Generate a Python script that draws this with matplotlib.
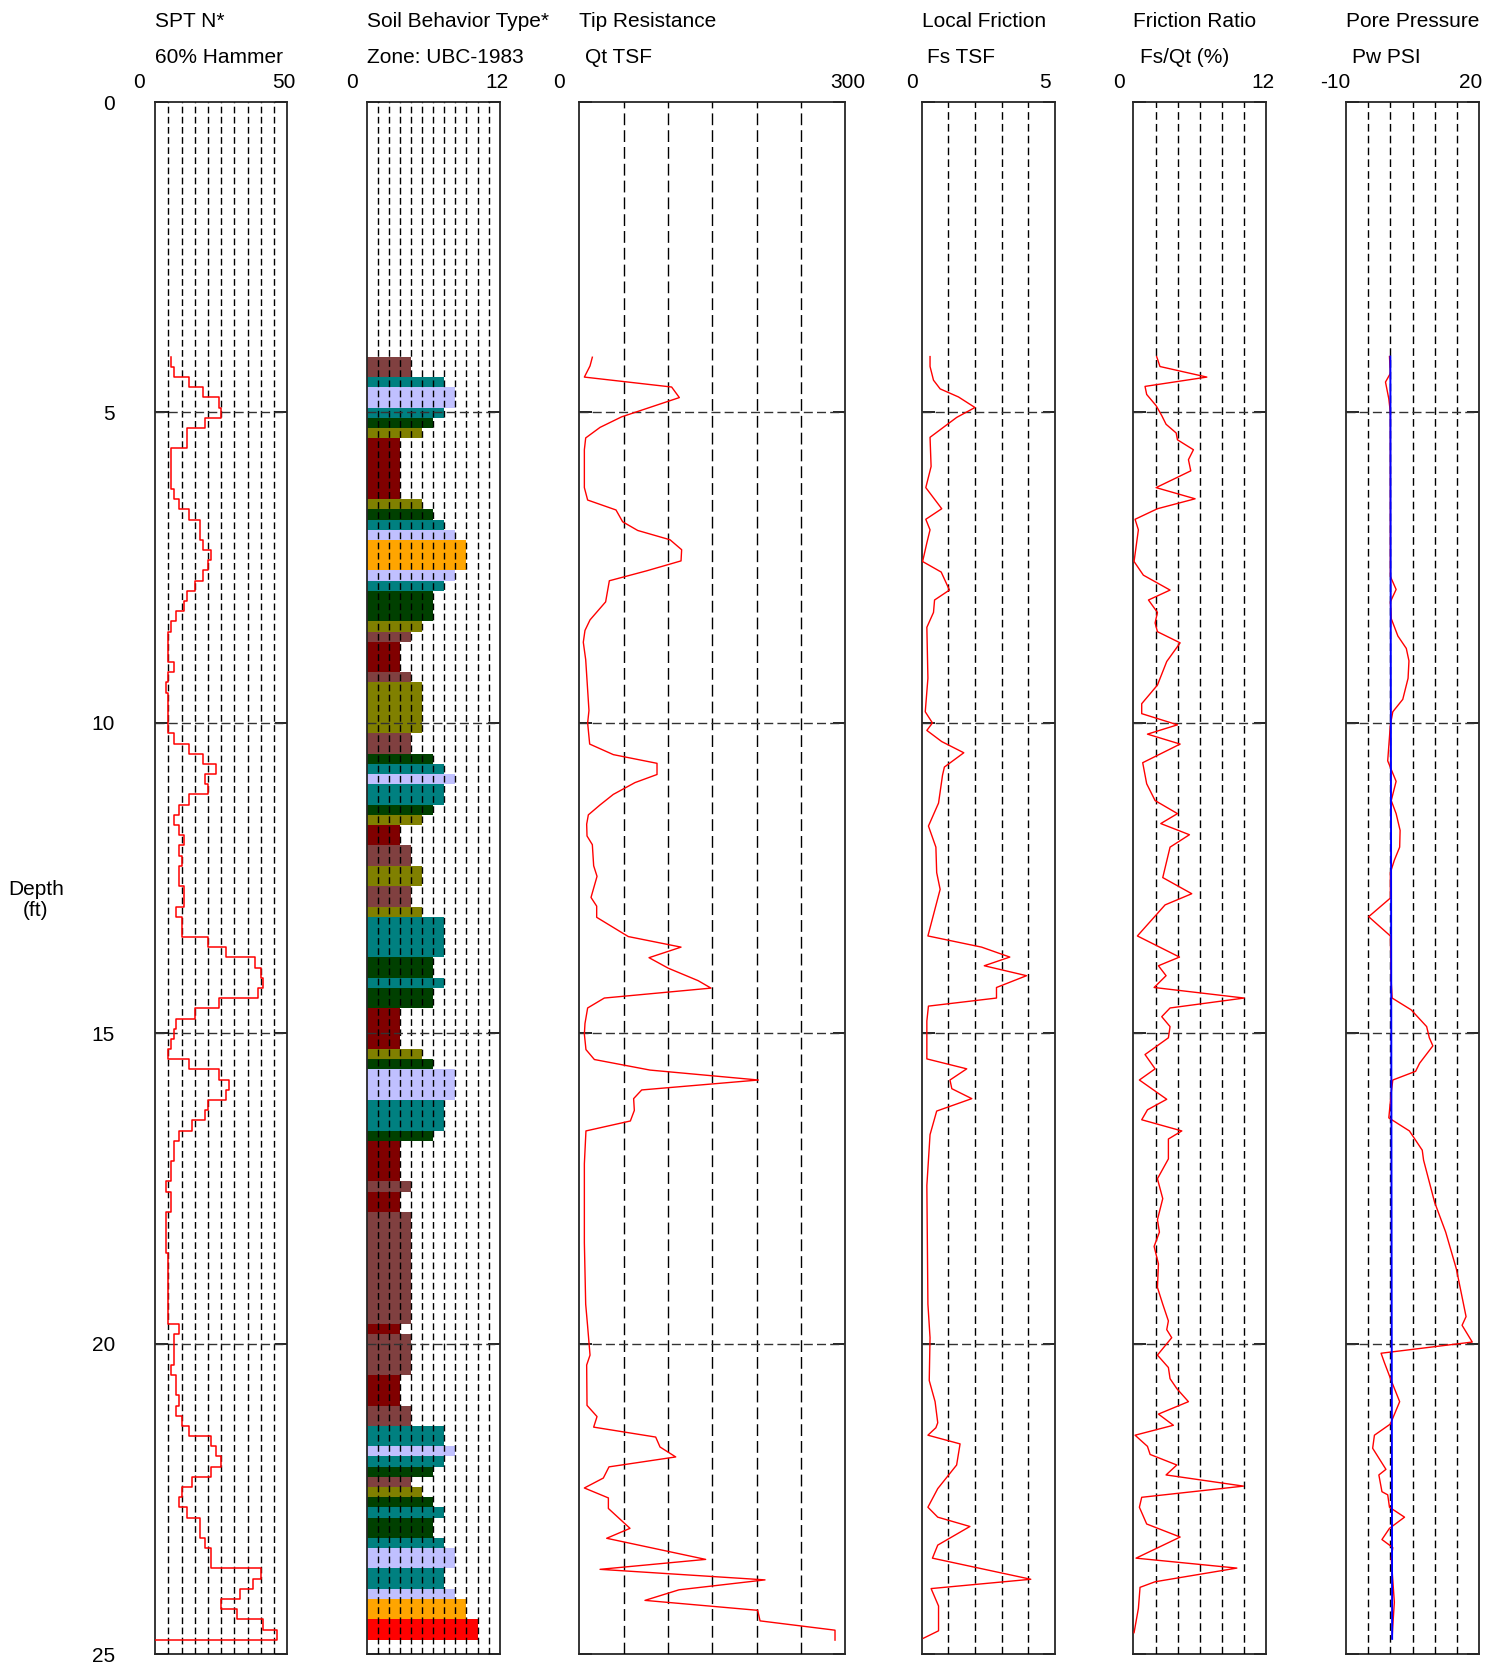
import matplotlib
matplotlib.use('Agg')
import matplotlib.pyplot as plt
import numpy as np

plt.rcParams['font.family'] = ['Liberation Sans', 'DejaVu Sans']
FS = 15

# CPT sounding sampled every 5 cm (0.164 ft), starting at 4.10 ft
top_depth = 4.10
step = 0.164

sbt_zone = [4, 4, 7, 8, 8, 7, 6, 5, 3, 3, 3, 3, 3, 3, 5, 6, 7, 8, 9, 9,
            9, 8, 7, 6, 6, 6, 5, 4, 3, 3, 3, 4, 5, 5, 5, 5, 5, 4, 4, 6,
            7, 8, 7, 7, 6, 5, 3, 3, 4, 4, 5, 5, 4, 4, 5, 7, 7, 7, 7, 6,
            6, 7, 6, 6, 3, 3, 3, 3, 5, 6, 8, 8, 8, 7, 7, 7, 6, 3, 3, 3,
            3, 4, 3, 3, 4, 4, 4, 4, 4, 4, 4, 4, 4, 4, 4, 3, 4, 4, 4, 4,
            3, 3, 3, 4, 4, 7, 7, 8, 7, 6, 4, 5, 6, 7, 6, 6, 7, 8, 8, 7,
            7, 8, 9, 9, 10, 10]

spt_n = [6, 7, 13, 18, 24, 25, 19, 12, 12, 6, 6, 6, 6, 7, 9, 13, 17, 17, 18, 21,
         20, 18, 15, 12, 11, 8, 6, 5, 5, 5, 7, 5, 4, 5, 5, 5, 5, 7, 13, 18,
         23, 19, 20, 13, 9, 7, 9, 11, 9, 10, 9, 9, 11, 11, 8, 10, 10, 20, 27, 38,
         40, 41, 39, 24, 15, 8, 7, 6, 5, 13, 24, 28, 27, 20, 19, 14, 9, 7, 7, 6,
         6, 4, 6, 6, 4, 4, 4, 4, 5, 5, 5, 5, 5, 5, 5, 9, 7, 7, 7, 6,
         8, 8, 9, 8, 10, 13, 21, 23, 25, 21, 14, 10, 9, 12, 17, 17, 19, 21, 21, 40,
         37, 32, 25, 31, 41, 46]

zone_colors = {3: '#800000', 4: '#804040', 5: '#808000', 6: '#004000',
               7: '#008080', 8: '#c0c0ff', 9: '#ffa500', 10: '#ff0000'}

qt_depth = [4.11, 4.25, 4.43, 4.59, 4.76, 5.07, 5.24, 5.41, 5.60, 6.21, 6.41, 6.57, 6.76,
            6.90, 7.05, 7.21, 7.39, 7.55, 7.71, 8.05, 8.34, 8.51, 8.70, 8.98, 9.80, 10.0,
            10.34, 10.51, 10.65, 10.83, 10.96, 11.15, 11.32, 11.48, 11.63, 11.82, 11.96,
            12.30, 12.47, 12.81, 12.95, 13.13, 13.44, 13.61, 13.78, 13.95, 14.15, 14.27,
            14.43, 14.59, 14.84, 15.01, 15.26, 15.42, 15.59, 15.75, 15.91, 16.05, 16.24,
            16.41, 16.57, 17.10, 18.37, 19.36, 19.72, 20.18, 20.34, 20.99, 21.17, 21.34,
            21.50, 21.66, 21.82, 21.98, 22.16, 22.32, 22.48, 22.65, 22.97, 23.13, 23.47,
            23.63, 23.80, 23.96, 24.13, 24.29, 24.46, 24.61, 24.77]
qt_tsf = [14.6, 12.0, 5.6, 104.1, 112.8, 47.7, 23.3, 7.1, 5.6, 5.6, 9.3, 41.3, 48.8,
          65.8, 102.3, 115.4, 114.7, 75.9, 33.8, 29.6, 12.0, 6.3, 4.4, 7.1, 10.8, 9.3,
          11.6, 38.3, 87.6, 87.6, 62.8, 38.3, 23.3, 10.1, 8.2, 8.6, 14.6,
          16.1, 19.9, 13.1, 19.5, 19.5, 55.2, 114.7, 78.6, 100.4, 134.0, 148.5,
          28.1, 9.3, 6.3, 5.6, 7.4, 16.9, 79.7, 202.0, 70.3, 61.2, 62.0,
          57.5, 7.4, 5.6, 5.6, 7.1, 9.3, 12.0, 8.2, 8.6, 19.9, 16.1,
          86.1, 91.0, 108.7, 33.4, 27.0, 5.6, 32.7, 32.7, 57.1, 30.8, 142.5,
          23.3, 209.5, 112.4, 74.0, 201.2, 203.9, 288.5, 288.5]

fs_depth = [4.10, 4.26, 4.48, 4.62, 4.75, 4.92, 5.08, 5.40, 5.87, 6.21, 6.55, 6.72, 6.89,
            7.10, 7.40, 7.57, 7.86, 8.02, 8.22, 8.46, 9.28, 9.82, 10.0, 10.12, 10.30,
            10.48, 10.71, 10.84, 11.29, 11.66, 12.0, 12.41, 12.68, 13.43, 13.61, 13.77,
            13.91, 14.07, 14.26, 14.43, 14.56, 14.80, 15.41, 15.57, 15.75, 15.89, 16.05,
            16.25, 16.63, 17.45, 19.36, 19.90, 20.59, 20.93, 21.27, 21.35, 21.47, 21.61,
            21.95, 22.33, 22.63, 22.79, 22.94, 23.24, 23.45, 23.79, 23.94, 24.22, 24.62,
            24.74]
fs_tsf = [0.31, 0.31, 0.44, 0.69, 1.38, 2.0, 1.31, 0.31, 0.35, 0.15, 0.75, 0.15, 0.31,
          0.19, 0.03, 0.73, 1.04, 0.48, 0.44, 0.19, 0.23, 0.13, 0.40, 0.19, 0.75,
          1.58, 0.85, 0.78, 0.63, 0.25, 0.53, 0.56, 0.69, 0.23, 2.25, 3.31,
          2.35, 3.94, 2.81, 2.81, 0.25, 0.19, 0.19, 1.69, 1.06, 1.13, 1.88,
          0.56, 0.31, 0.19, 0.23, 0.31, 0.28, 0.50, 0.60, 0.53, 0.23, 1.44,
          1.31, 0.60, 0.23, 0.60, 1.81, 0.60, 0.40, 4.10, 0.35, 0.63, 0.63,
          0.06]

fr_depth = [4.10, 4.26, 4.43, 4.58, 4.71, 4.89, 5.05, 5.19, 5.33, 5.44, 5.60, 5.76, 5.94,
            6.21, 6.39, 6.55, 6.72, 6.89, 7.40, 7.62, 7.86, 8.02, 8.22, 8.39, 8.53, 8.71,
            9.01, 9.39, 9.69, 9.85, 10.03, 10.18, 10.34, 10.64, 10.98, 11.25, 11.46, 11.62,
            11.80, 12.0, 12.49, 12.75, 12.93, 13.43, 13.77, 13.91, 14.07, 14.26, 14.43,
            14.59, 14.73, 14.89, 15.07, 15.34, 15.57, 15.75, 16.06, 16.23, 16.39, 16.57,
            16.70, 17.02, 17.34, 17.66, 18.0, 18.20, 18.43, 18.71, 19.09, 19.36, 19.63,
            19.77, 19.90, 20.18, 20.38, 20.56, 20.72, 20.93, 21.13, 21.31, 21.47, 21.65,
            21.78, 21.95, 22.11, 22.29, 22.47, 22.63, 22.90, 23.11, 23.45, 23.61, 23.83,
            23.92, 24.26, 24.65]
fr_pct = [2.1, 2.4, 6.63, 1.05, 1.2, 2.05, 2.56, 2.95, 3.86, 3.98, 5.42, 4.97, 5.18,
          2.05, 5.57, 2.17, 0.15, 0.45, 0.06, 0.9, 3.31, 1.36, 2.17, 1.96, 2.17, 4.22,
          3.01, 2.17, 0.75, 0.75, 3.98, 1.27, 4.22, 0.84, 1.2, 1.96, 3.98, 2.47,
          5.06, 3.31, 2.65, 5.27, 2.86, 0.36, 4.16, 2.26, 2.95, 1.87, 10.0,
          3.31, 2.56, 3.31, 3.16, 1.05, 1.96, 0.54, 3.01, 1.27, 0.75, 4.37,
          3.16, 3.16, 2.17, 2.65, 2.17, 2.35, 1.87, 2.26, 2.17, 2.65, 3.16,
          3.01, 3.46, 2.17, 3.16, 3.31, 3.92, 4.97, 2.26, 3.61, 0.15, 1.27,
          1.51, 3.92, 2.95, 9.94, 0.75, 0.54, 1.2, 4.22, 0.24, 9.34, 1.96,
          0.6, 0.45, 0.06]

pw_depth = [4.10, 4.37, 4.51, 4.78, 5.0, 7.64, 7.85, 8.05, 8.32, 8.60, 8.80, 9.0, 9.28,
            9.62, 9.82, 10.03, 10.61, 10.75, 10.94, 11.25, 11.46, 11.73, 12.0, 12.21,
            12.41, 12.82, 13.12, 13.43, 14.18, 14.43, 14.62, 14.89, 15.07, 15.20, 15.48,
            15.61, 15.75, 15.95, 16.36, 16.57, 16.88, 17.04, 17.72, 18.20, 18.79, 19.56,
            19.70, 19.97, 20.15, 20.31, 20.59, 20.93, 21.29, 21.47, 21.68, 22.02, 22.11,
            22.38, 22.43, 22.63, 22.79, 22.97, 23.15, 23.28, 23.45, 24.16, 24.54, 24.74]
pw_psi = [-0.2, 0.0, -1.1, -0.35, 0.0, 0.0, 1.3, 0.0, 0.2, 1.7, 3.6, 4.2, 4.0,
          2.8, 0.55, 0.0, -0.6, 0.2, 1.3, 0.2, 1.3, 2.2, 2.1, 0.9,
          0.0, 0.0, -4.9, 0.0, 0.2, 0.4, 4.7, 8.2, 8.8, 9.6, 6.6,
          5.7, 0.55, 0.2, -0.35, 4.3, 7.2, 7.5, 10.0, 12.5, 14.9, 17.1,
          16.2, 18.5, -2.1, -1.3, 0.2, 2.1, 0.0, -3.6, -4.0, -1.0, -2.6,
          -1.9, -0.6, -0.2, 3.2, -0.2, -1.9, 0.55, 0.2, 0.9, 0.55, 0.4]

# hydrostatic reference line
hyd_depth = [4.10, 24.75]
hyd_psi = [0.0, 0.4]

W, H = 1497, 1667
fig = plt.figure(figsize=(W / 100, H / 100), dpi=100)
TOP, BOT = 102, 1654.4


def panel(left, right, xmin, xmax, gstep, dash):
    ax = fig.add_axes([left / W, (H - BOT) / H, (right - left) / W, (BOT - TOP) / H])
    ax.set_xlim(xmin, xmax)
    ax.set_ylim(25, 0)
    for x in np.arange(xmin + gstep, xmax - 1e-9, gstep):
        ax.axvline(x, color='k', lw=1.0, ls=(0, dash), zorder=4)
    for d in [5, 10, 15, 20]:
        ax.axhline(d, color='0.2', lw=1.0, ls=(0, (6.5, 3)), zorder=4)
    ax.set_xticks([])
    ax.set_yticks([0, 5, 10, 15, 20, 25])
    ax.tick_params(axis='y', direction='in', length=9, width=1.2,
                   left=True, right=True, labelleft=False)
    for s in ax.spines.values():
        s.set_linewidth(1.3)
        s.set_color('0.15')
    return ax


# SPT N*
ax1 = panel(155.2, 287.1, 0, 50, 5, (4.8, 2.5))
tops = top_depth + step * np.arange(len(spt_n))
ys = np.column_stack([tops, tops + step]).ravel()
xs = np.repeat(spt_n, 2).astype(float)
xs = np.append(xs, 0)
ys = np.append(ys, ys[-1])
ax1.plot(xs, ys, color='red', lw=1.1, zorder=5)
ax1.tick_params(axis='y', labelleft=True, pad=29, labelsize=FS)

# Soil behaviour type
ax2 = panel(366.8, 499.7, 0, 12, 1, (4.8, 2.5))
ax2.barh(tops, sbt_zone, height=step, align='edge',
         color=[zone_colors[z] for z in sbt_zone], zorder=2)

# Tip resistance
ax3 = panel(579.4, 845.2, 0, 300, 50, (8.5, 3.6))
ax3.plot(qt_tsf, qt_depth, color='red', lw=1.0, zorder=5)

# Local friction
ax4 = panel(921.8, 1054.7, 0, 5, 1, (5.5, 3))
ax4.plot(fs_tsf, fs_depth, color='red', lw=1.0, zorder=5)

# Friction ratio
ax5 = panel(1133.4, 1266.3, 0, 12, 2, (5.5, 3))
ax5.plot(fr_pct, fr_depth, color='red', lw=1.0, zorder=5)

# Pore pressure
ax6 = panel(1346.1, 1478.9, -10, 20, 5, (5.5, 3))
ax6.plot(pw_psi, pw_depth, color='red', lw=1.0, zorder=5)
ax6.plot(hyd_psi, hyd_depth, color='blue', lw=1.4, zorder=6)


def ftext(x, y, s, ha='left'):
    fig.text(x / W, 1 - y / H, s, ha=ha, va='center', fontsize=FS)


titles = [(155.2, 'SPT N*', 155.2, '60% Hammer'),
          (366.8, 'Soil Behavior Type*', 366.8, 'Zone: UBC-1983'),
          (579.4, 'Tip Resistance', 584.8, 'Qt TSF'),
          (921.8, 'Local Friction', 927.1, 'Fs TSF'),
          (1133.4, 'Friction Ratio', 1139.8, 'Fs/Qt (%)'),
          (1346.1, 'Pore Pressure', 1352.4, 'Pw PSI')]
for x1, t1, x2, t2 in titles:
    ftext(x1, 21.5, t1)
    ftext(x2, 57.5, t2)

limits = [(139.3, '0'), (283.9, '50'), (351.9, '0'), (496.5, '12'),
          (559.2, '0'), (847.4, '300'), (912.2, '0'), (1045.1, '5'),
          (1119.5, '0'), (1263.1, '12'), (1335.4, '-10'), (1470.4, '20')]
for x, s in limits:
    ftext(x, 83, s, ha='center')

fig.text(36 / W, 1 - 900 / H, 'Depth\n(ft)', ha='center', va='center',
         fontsize=FS, multialignment='center', linespacing=1.15)

fig.savefig('out.png', dpi=100)
